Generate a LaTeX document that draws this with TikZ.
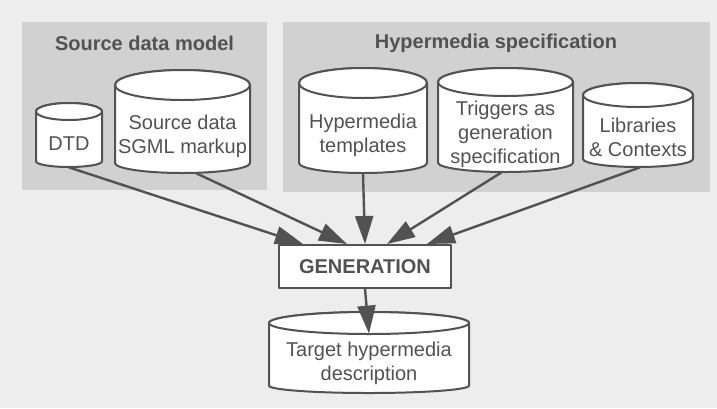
\documentclass[tikz,border=0pt]{standalone}
\usepackage{fontspec}
\setmainfont{Liberation Sans}
\usetikzlibrary{arrows.meta}
\definecolor{paper}{gray}{0.93}
\definecolor{panel}{gray}{0.82}
\definecolor{ink}{gray}{0.32}
\tikzset{
    Panel/.style = {fill=panel, draw=none},
    Title/.style = {font=\bfseries, text=ink},
    Base/.style = {align=center, inner sep=0pt, text=ink},
    Wall/.style = {draw=ink, fill=white, line width=1pt}
}
\tikzset{
    Box/.style = {draw=ink, fill=white, line width=1pt, minimum width=86pt, minimum height=21.5pt, font=\bfseries, text=ink},
    Edge/.style = {draw=ink, line width=1.2pt, -{Triangle[length=14pt,width=9pt]}}
}
% store: name, left, right, top, bottom, top radius, text
\newcommand{\dbase}[7]{%
  \pgfmathsetmacro{\dbrx}{(#3-#2)/4}%
  \pgfmathsetmacro{\dbry}{#6/2}%
  \pgfmathsetmacro{\dbrb}{#6/3}%
  \path[Wall] (#2,#4+#6) -- (#2,#5-#6*2/3)
    arc[start angle=180, end angle=360, x radius=\dbrx pt, y radius=\dbrb pt]
    -- (#3,#4+#6)
    arc[start angle=0, end angle=180, x radius=\dbrx pt, y radius=\dbry pt] -- cycle;
  \draw[Wall] ({(#2+#3)/2},#4+#6) ellipse[x radius=\dbrx pt, y radius=\dbry pt];
  \node[Base, minimum width={(#3-#2)*0.5pt}, minimum height={(#5-#4-2*#6)*0.5pt}]
    (#1) at ({(#2+#3)/2},{(#4+2*#6+#5)/2}) {#7};
}

\begin{document}
\begin{tikzpicture}[
    x=0.5pt, y=-0.5pt,
    line join=round,
    font=\fontsize{10}{12}\selectfont
]
\fill[paper] (0,0) rectangle (717,408);
\useasboundingbox (0,0) rectangle (717,408);
% panels
\path[Panel] (22,22) rectangle (267,190);
\path[Panel] (283,22) rectangle (710,192);
\node[Title] (srcmodel) at (144.5,43) {Source data model};
\node[Title] (hypspec) at (496,43) {Hypermedia specification};
% stores
\dbase{dtd}{36}{102}{103}{167}{8.5}{DTD}
\dbase{src}{115}{250}{70}{173}{15}{Source data\\SGML markup}
\dbase{tmpl}{299}{427}{68}{173}{15}{Hypermedia\\templates}
\dbase{trig}{438}{573}{68}{172}{14}{Triggers as\\generation\\specification}
\dbase{libs}{583}{693}{83}{167}{12}{Libraries\\\& Contexts}
\node[Box] (gen) at (365,266.5) {GENERATION};
\dbase{tgt}{269}{469}{312}{393}{11}{Target hypermedia\\description}
% flow
\path (dtd.south) edge [Edge] ([xshift=-31pt]gen.north);
\path ([xshift=7pt]src.south) edge [Edge] ([xshift=-9pt]gen.north);
\path (tmpl.south) edge [Edge] (gen.north);
\path ([xshift=-2pt]trig.south) edge [Edge] ([xshift=11pt]gen.north);
\path ([xshift=1pt]libs.south) edge [Edge] ([xshift=31pt]gen.north);
\path (gen.south) edge [Edge] (tgt.north);
\end{tikzpicture}
\end{document}
